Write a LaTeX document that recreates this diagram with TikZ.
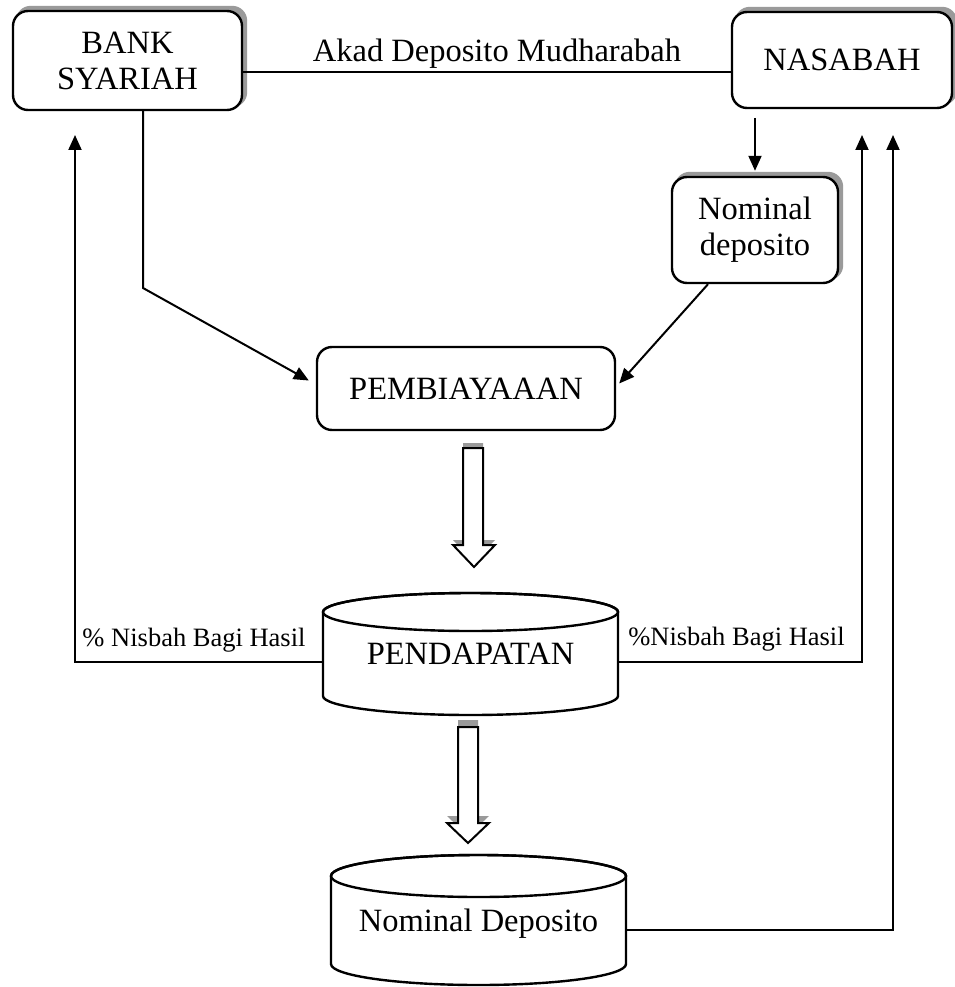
\documentclass[tikz,border=0pt]{standalone}
\usepackage{fontspec}
\setmainfont{Liberation Serif}
\usetikzlibrary{arrows.meta,calc,backgrounds}
\definecolor{shadowgray}{HTML}{9A9A9A}
\begin{document}
\begin{tikzpicture}[x=1pt,y=-1pt,
  rbox/.style={draw, line width=2.4pt, rounded corners=15pt, fill=white, align=center,
    inner sep=0pt, font=\fontsize{32.5}{36}\selectfont},
  boxshadow/.style={fill=shadowgray, rounded corners=15pt},
  cyltext/.style={inner sep=0pt, font=\fontsize{32.5}{36}\selectfont, text depth=0pt},
  cylshape/.style={draw, line width=2.4pt, fill=white},
  lbl/.style={inner sep=0pt, font=\fontsize{32.5}{36}\selectfont},
  slbl/.style={inner sep=0pt, font=\fontsize{26.5}{30}\selectfont},
  conn/.style={line width=2pt},
  arr/.style={conn, -{Triangle[length=15pt,width=13pt]}},
  blockarrow/.style={draw, line width=2pt, fill=white, line join=miter},
  blockshadow/.style={fill=shadowgray}
]
\useasboundingbox (0,0) rectangle (954,987);

% boxes
\node[rbox, minimum width=229pt, minimum height=99pt] (bank) at (127.5,60.5) {BANK\\SYARIAH};
\node[rbox, minimum width=220pt, minimum height=96pt] (nasabah) at (842,60) {NASABAH};
\node[rbox, minimum width=166pt, minimum height=106pt] (nomd) at (755,230) {Nominal\\deposito};
\node[rbox, minimum width=298pt, minimum height=83pt] (pemb) at (466,388.5) {PEMBIAYAAAN};

\begin{pgfonlayer}{background}
\fill[boxshadow] ([xshift=4pt,yshift=4pt]bank.south west) rectangle ([xshift=4pt,yshift=4pt]bank.north east);
\fill[boxshadow] ([xshift=4pt,yshift=4pt]nasabah.south west) rectangle ([xshift=4pt,yshift=4pt]nasabah.north east);
\fill[boxshadow] ([xshift=4pt,yshift=4pt]nomd.south west) rectangle ([xshift=4pt,yshift=4pt]nomd.north east);
\end{pgfonlayer}

% cylinder PENDAPATAN
\draw[cylshape] (323,612) -- (323,696) arc[start angle=180,end angle=360,x radius=147.5pt,y radius=19pt]
  -- (618,612) arc[start angle=0,end angle=180,x radius=147.5pt,y radius=19pt] -- cycle;
\draw[line width=2.4pt] (470.5,612) ellipse[x radius=147.5pt,y radius=19pt];
\node[cyltext, text height=21pt, minimum width=295pt, minimum height=122pt] (pend) at (470.5,654) {PENDAPATAN};

% cylinder Nominal Deposito
\draw[cylshape] (331,876) -- (331,964) arc[start angle=180,end angle=360,x radius=147.5pt,y radius=21pt]
  -- (626,876) arc[start angle=0,end angle=180,x radius=147.5pt,y radius=21pt] -- cycle;
\draw[line width=2.4pt] (478.5,876) ellipse[x radius=147.5pt,y radius=21pt];
\node[cyltext, text height=22pt, minimum width=295pt, minimum height=130pt] (ndep) at (478.5,920) {Nominal Deposito};

% block arrows
\fill[blockshadow] (463,443) -- (483,443) -- (483,540) -- (495,540) -- (474,562) -- (453,540) -- (463,540) -- cycle;
\draw[blockarrow] (463,448) -- (483,448) -- (483,545) -- (495,545) -- (474,567) -- (453,545) -- (463,545) -- cycle;
\fill[blockshadow] (458,720) -- (478,720) -- (478,816) -- (489,816) -- (468,836) -- (447,816) -- (458,816) -- cycle;
\draw[blockarrow] (458,727) -- (478,727) -- (478,823) -- (489,823) -- (468,843) -- (447,823) -- (458,823) -- cycle;

% connectors
\draw[conn] ([yshift=-11.5pt]bank.east) -- ([yshift=-12pt]nasabah.west);
\node[lbl, anchor=base] (akad) at (497,62) {Akad Deposito Mudharabah};

\coordinate (ns) at (755,118);
\draw[arr, shorten >=5pt] (ns) -- (nomd.north);

\coordinate (bk) at (143,288);
\draw[arr] ([xshift=15.5pt]bank.south) -- (bk) -- ([xshift=-7pt,yshift=8pt]pemb.west);
\draw[arr] ([xshift=-47pt]nomd.south) -- ([xshift=3pt,yshift=5pt]pemb.east);

\coordinate (bl) at (75,135);
\coordinate (nr1) at (862,135);
\coordinate (nr2) at (893,135);
\draw[arr] ([yshift=-8pt]pend.west) -| (bl);
\draw[arr] ([yshift=-8pt]pend.east) -| (nr1);
\draw[arr] ([yshift=-10pt]ndep.east) -| (nr2);

\node[slbl, anchor=base] (lnis) at (194,646) {\% Nisbah Bagi Hasil};
\node[slbl, anchor=base] (rnis) at (736.5,645) {\%Nisbah Bagi Hasil};
\end{tikzpicture}
\end{document}
